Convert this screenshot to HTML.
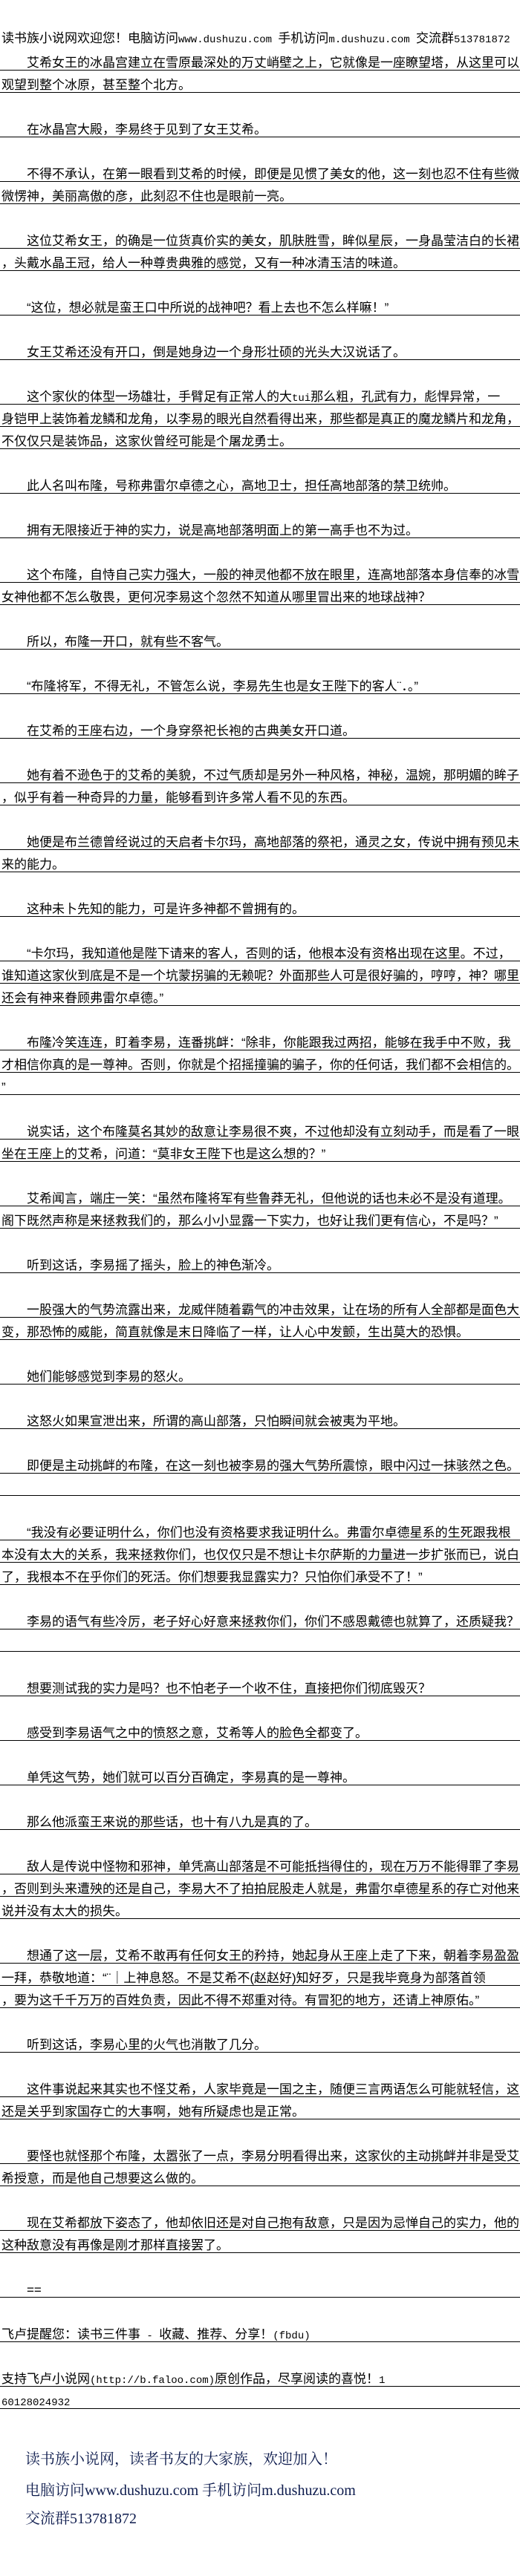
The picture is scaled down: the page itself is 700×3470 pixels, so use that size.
<!DOCTYPE html>
<html><head><meta charset="utf-8">
<style>
html,body{margin:0;padding:0;background:#fff;}
body{width:700px;height:3470px;position:relative;overflow:hidden;font-family:"Liberation Sans","Noto Sans CJK SC",sans-serif;color:#000;}
.hd{position:absolute;left:2px;top:43px;font-size:17px;line-height:17px;white-space:nowrap;}
.m{font-family:"Liberation Mono",monospace;font-size:14px;}
.txt{position:absolute;left:0;top:65px;width:700px;}
.p{margin-bottom:30px;}
.l{height:30px;box-sizing:border-box;border-bottom:1px solid #000;font-size:17px;line-height:17px;padding:11px 0 0 2px;white-space:nowrap;overflow:hidden;}
.ft{position:absolute;left:34px;font-family:"Liberation Serif","Noto Serif CJK SC",serif;font-size:20px;line-height:22px;color:#0d1b4d;white-space:nowrap;}
</style></head><body>
<div class="hd">读书族小说网欢迎您！电脑访问<span class="m">www.dushuzu.com </span>手机访问<span class="m">m.dushuzu.com </span>交流群<span class="m">513781872</span></div>
<div class="txt">
<div class="p"><div class="l">　　艾希女王的冰晶宫建立在雪原最深处的万丈峭壁之上，它就像是一座瞭望塔，从这里可以</div><div class="l">观望到整个冰原，甚至整个北方。</div></div>
<div class="p"><div class="l">　　在冰晶宫大殿，李易终于见到了女王艾希。</div></div>
<div class="p"><div class="l">　　不得不承认，在第一眼看到艾希的时候，即便是见惯了美女的他，这一刻也忍不住有些微</div><div class="l">微愣神，美丽高傲的彦，此刻忍不住也是眼前一亮。</div></div>
<div class="p"><div class="l">　　这位艾希女王，的确是一位货真价实的美女，肌肤胜雪，眸似星辰，一身晶莹洁白的长裙</div><div class="l">，头戴水晶王冠，给人一种尊贵典雅的感觉，又有一种冰清玉洁的味道。</div></div>
<div class="p"><div class="l">　　“这位，想必就是蛮王口中所说的战神吧？看上去也不怎么样嘛！”</div></div>
<div class="p"><div class="l">　　女王艾希还没有开口，倒是她身边一个身形壮硕的光头大汉说话了。</div></div>
<div class="p"><div class="l">　　这个家伙的体型一场雄壮，手臂足有正常人的大<span class="m">tui</span>那么粗，孔武有力，彪悍异常，一</div><div class="l">身铠甲上装饰着龙鳞和龙角，以李易的眼光自然看得出来，那些都是真正的魔龙鳞片和龙角，</div><div class="l">不仅仅只是装饰品，这家伙曾经可能是个屠龙勇士。</div></div>
<div class="p"><div class="l">　　此人名叫布隆，号称弗雷尔卓德之心，高地卫士，担任高地部落的禁卫统帅。</div></div>
<div class="p"><div class="l">　　拥有无限接近于神的实力，说是高地部落明面上的第一高手也不为过。</div></div>
<div class="p"><div class="l">　　这个布隆，自恃自己实力强大，一般的神灵他都不放在眼里，连高地部落本身信奉的冰雪</div><div class="l">女神他都不怎么敬畏，更何况李易这个忽然不知道从哪里冒出来的地球战神？</div></div>
<div class="p"><div class="l">　　所以，布隆一开口，就有些不客气。</div></div>
<div class="p"><div class="l">　　“布隆将军，不得无礼，不管怎么说，李易先生也是女王陛下的客人¨．。”</div></div>
<div class="p"><div class="l">　　在艾希的王座右边，一个身穿祭祀长袍的古典美女开口道。</div></div>
<div class="p"><div class="l">　　她有着不逊色于的艾希的美貌，不过气质却是另外一种风格，神秘，温婉，那明媚的眸子</div><div class="l">，似乎有着一种奇异的力量，能够看到许多常人看不见的东西。</div></div>
<div class="p"><div class="l">　　她便是布兰德曾经说过的天启者卡尔玛，高地部落的祭祀，通灵之女，传说中拥有预见未</div><div class="l">来的能力。</div></div>
<div class="p"><div class="l">　　这种未卜先知的能力，可是许多神都不曾拥有的。</div></div>
<div class="p"><div class="l">　　“卡尔玛，我知道他是陛下请来的客人，否则的话，他根本没有资格出现在这里。不过，</div><div class="l">谁知道这家伙到底是不是一个坑蒙拐骗的无赖呢？外面那些人可是很好骗的，哼哼，神？哪里</div><div class="l">还会有神来眷顾弗雷尔卓德。”</div></div>
<div class="p"><div class="l">　　布隆冷笑连连，盯着李易，连番挑衅：“除非，你能跟我过两招，能够在我手中不败，我</div><div class="l">才相信你真的是一尊神。否则，你就是个招摇撞骗的骗子，你的任何话，我们都不会相信的。</div><div class="l">”</div></div>
<div class="p"><div class="l">　　说实话，这个布隆莫名其妙的敌意让李易很不爽，不过他却没有立刻动手，而是看了一眼</div><div class="l">坐在王座上的艾希，问道：“莫非女王陛下也是这么想的？”</div></div>
<div class="p"><div class="l">　　艾希闻言，端庄一笑：“虽然布隆将军有些鲁莽无礼，但他说的话也未必不是没有道理。</div><div class="l">阁下既然声称是来拯救我们的，那么小小显露一下实力，也好让我们更有信心，不是吗？”</div></div>
<div class="p"><div class="l">　　听到这话，李易摇了摇头，脸上的神色渐冷。</div></div>
<div class="p"><div class="l">　　一股强大的气势流露出来，龙威伴随着霸气的冲击效果，让在场的所有人全部都是面色大</div><div class="l">变，那恐怖的威能，简直就像是末日降临了一样，让人心中发颤，生出莫大的恐惧。</div></div>
<div class="p"><div class="l">　　她们能够感觉到李易的怒火。</div></div>
<div class="p"><div class="l">　　这怒火如果宣泄出来，所谓的高山部落，只怕瞬间就会被夷为平地。</div></div>
<div class="p"><div class="l">　　即便是主动挑衅的布隆，在这一刻也被李易的强大气势所震惊，眼中闪过一抹骇然之色。</div><div class="l"></div></div>
<div class="p"><div class="l">　　“我没有必要证明什么，你们也没有资格要求我证明什么。弗雷尔卓德星系的生死跟我根</div><div class="l">本没有太大的关系，我来拯救你们，也仅仅只是不想让卡尔萨斯的力量进一步扩张而已，说白</div><div class="l">了，我根本不在乎你们的死活。你们想要我显露实力？只怕你们承受不了！”</div></div>
<div class="p"><div class="l">　　李易的语气有些冷厉，老子好心好意来拯救你们，你们不感恩戴德也就算了，还质疑我？</div><div class="l"></div></div>
<div class="p"><div class="l">　　想要测试我的实力是吗？也不怕老子一个收不住，直接把你们彻底毁灭？</div></div>
<div class="p"><div class="l">　　感受到李易语气之中的愤怒之意，艾希等人的脸色全都变了。</div></div>
<div class="p"><div class="l">　　单凭这气势，她们就可以百分百确定，李易真的是一尊神。</div></div>
<div class="p"><div class="l">　　那么他派蛮王来说的那些话，也十有八九是真的了。</div></div>
<div class="p"><div class="l">　　敌人是传说中怪物和邪神，单凭高山部落是不可能抵挡得住的，现在万万不能得罪了李易</div><div class="l">，否则到头来遭殃的还是自己，李易大不了拍拍屁股走人就是，弗雷尔卓德星系的存亡对他来</div><div class="l">说并没有太大的损失。</div></div>
<div class="p"><div class="l">　　想通了这一层，艾希不敢再有任何女王的矜持，她起身从王座上走了下来，朝着李易盈盈</div><div class="l">一拜，恭敬地道：“¨｜上神息怒。不是艾希不(赵赵好)知好歹，只是我毕竟身为部落首领</div><div class="l">，要为这千千万万的百姓负责，因此不得不郑重对待。有冒犯的地方，还请上神原佑。”</div></div>
<div class="p"><div class="l">　　听到这话，李易心里的火气也消散了几分。</div></div>
<div class="p"><div class="l">　　这件事说起来其实也不怪艾希，人家毕竟是一国之主，随便三言两语怎么可能就轻信，这</div><div class="l">还是关乎到家国存亡的大事啊，她有所疑虑也是正常。</div></div>
<div class="p"><div class="l">　　要怪也就怪那个布隆，太嚣张了一点，李易分明看得出来，这家伙的主动挑衅并非是受艾</div><div class="l">希授意，而是他自己想要这么做的。</div></div>
<div class="p"><div class="l">　　现在艾希都放下姿态了，他却依旧还是对自己抱有敌意，只是因为忌惮自己的实力，他的</div><div class="l">这种敌意没有再像是刚才那样直接罢了。</div></div>
<div class="p"><div class="l">　　==</div></div>
<div class="p"><div class="l">飞卢提醒您：读书三件事<span class="m"> - </span>收藏、推荐、分享！<span class="m">(fbdu)</span></div></div>
<div class="p"><div class="l">支持飞卢小说网<span class="m">(http://b.faloo.com)</span>原创作品，尽享阅读的喜悦！<span class="m">1</span></div><div class="l"><span class="m">60128024932</span></div></div>
</div>
<div class="ft" style="top:3302px;">读书族小说网，读者书友的大家族，欢迎加入！</div>
<div class="ft" style="top:3344px;">电脑访问www.dushuzu.com 手机访问m.dushuzu.com</div>
<div class="ft" style="top:3382px;">交流群513781872</div>
</body></html>
